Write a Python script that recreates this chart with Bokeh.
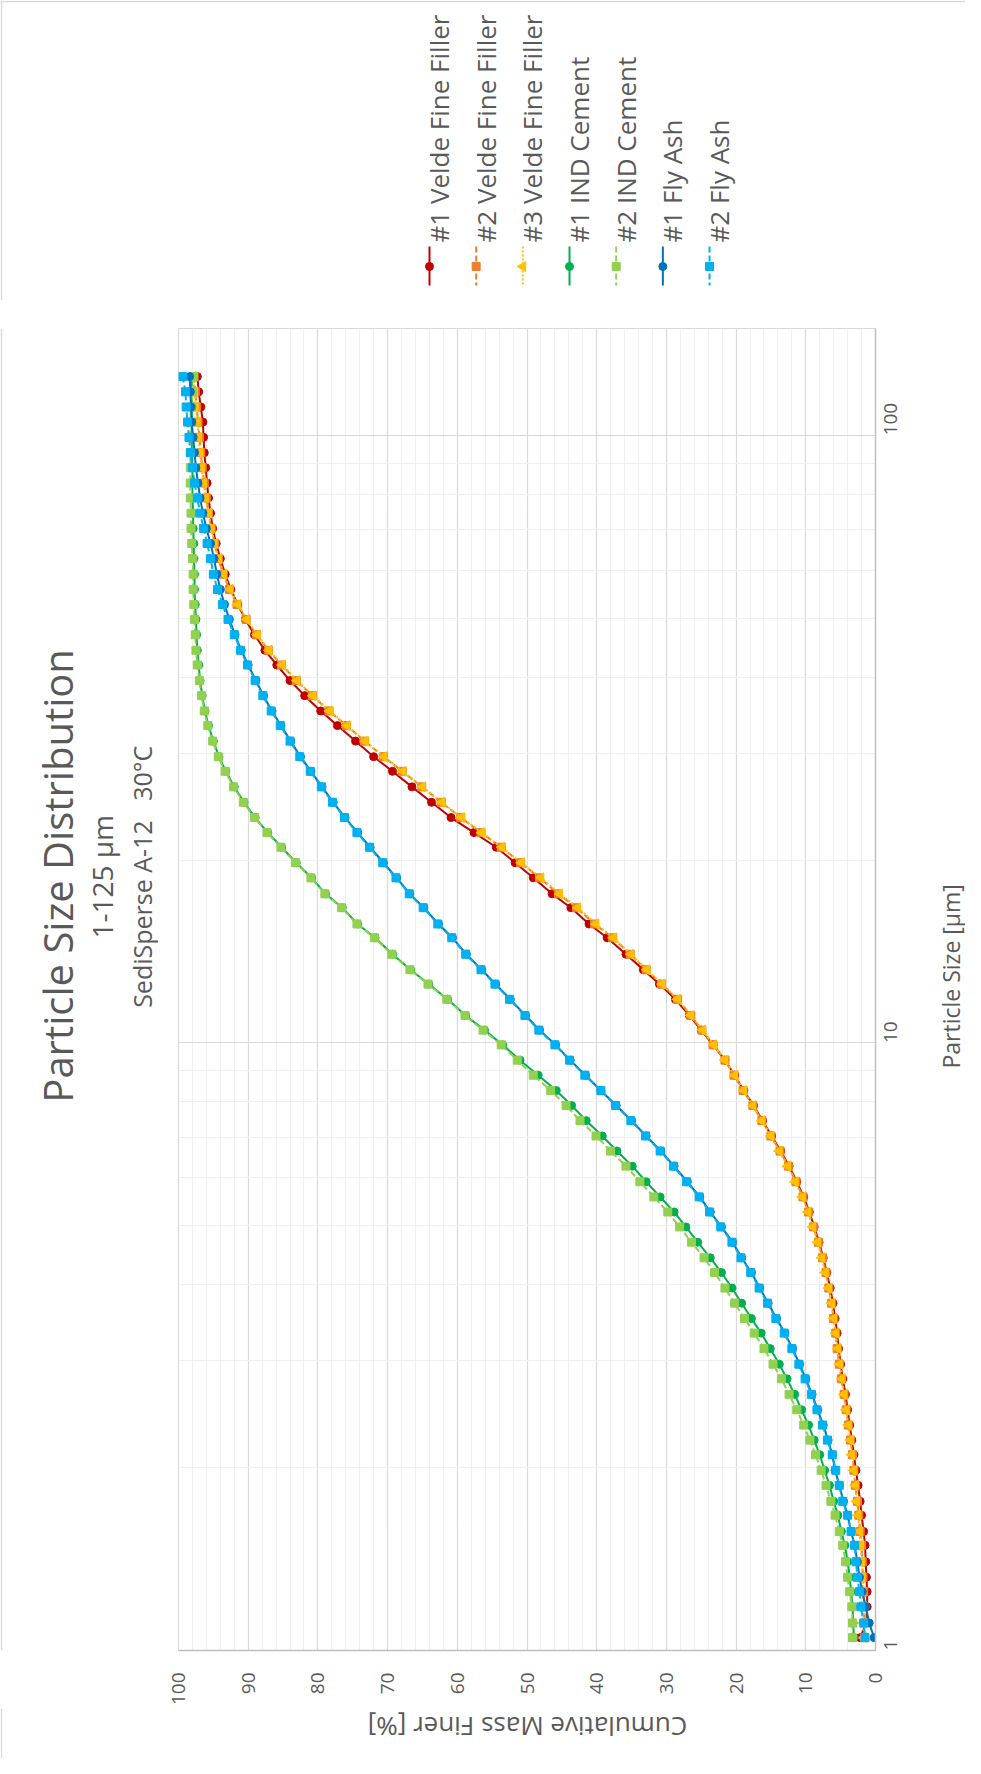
import math
from bokeh.plotting import figure
from bokeh.models import Range1d, FixedTicker, BasicTickFormatter
from bokeh.layouts import column, row
from bokeh.core.properties import value
from bokeh.embed import file_html
from bokeh.resources import INLINE

# ---------------- data ----------------
sizes = [125.0, 118.0, 111.4, 105.2, 99.3, 93.7, 88.5, 83.5, 78.9, 74.5,
         70.3, 66.4, 62.7, 59.1, 55.8, 52.7, 49.8, 47.0, 44.3, 41.9,
         39.5, 37.3, 35.2, 33.3, 31.4, 29.6, 28.0, 26.4, 24.9, 23.5,
         22.2, 21.0, 19.8, 18.7, 17.6, 16.7, 15.7, 14.9, 14.0, 13.2,
         12.5, 11.8, 11.1, 10.5, 9.93, 9.37, 8.85, 8.35, 7.89, 7.45,
         7.03, 6.64, 6.27, 5.91, 5.58, 5.27, 4.98, 4.70, 4.43, 4.19,
         3.95, 3.73, 3.52, 3.33, 3.14, 2.96, 2.80, 2.64, 2.49, 2.35,
         2.22, 2.10, 1.98, 1.87, 1.76, 1.67, 1.57, 1.49, 1.40, 1.32,
         1.25, 1.18, 1.11, 1.05]

velde1 = [97.3, 97.1, 96.8, 96.5, 96.4, 96.3, 96.1, 95.9, 95.7, 95.4,
          95.1, 94.6, 94.0, 93.3, 92.5, 91.5, 90.4, 89.1, 87.6, 85.9,
          84.0, 81.9, 79.6, 77.2, 74.6, 72.0, 69.3, 66.5, 63.7, 60.9,
          57.6, 54.4, 51.7, 49.1, 46.4, 43.7, 41.1, 38.5, 35.8, 33.3,
          31.0, 28.7, 26.7, 25.0, 23.3, 21.6, 20.2, 18.9, 17.5, 16.2,
          14.9, 13.6, 12.4, 11.3, 10.3, 9.5, 8.8, 8.1, 7.5, 7.0,
          6.5, 6.1, 5.8, 5.5, 5.3, 5.0, 4.7, 4.3, 4.0, 3.7,
          3.4, 3.1, 2.8, 2.5, 2.2, 2.0, 1.7, 1.5, 1.4, 1.3,
          1.2, 1.2, 1.3, 2.2]
velde2 = [97.8, 97.6, 97.4, 97.2, 97.0, 96.8, 96.6, 96.3, 96.0, 95.7,
          95.3, 94.8, 94.3, 93.6, 92.7, 91.6, 90.3, 88.8, 87.1, 85.2,
          83.1, 80.8, 78.4, 75.9, 73.3, 70.6, 67.9, 65.1, 62.3, 59.5,
          56.6, 53.7, 50.9, 48.2, 45.5, 42.9, 40.3, 37.7, 35.2, 32.9,
          30.7, 28.4, 26.5, 24.9, 23.3, 21.6, 20.3, 19.0, 17.6, 16.3,
          15.0, 13.7, 12.5, 11.4, 10.4, 9.6, 8.9, 8.2, 7.6, 7.1,
          6.7, 6.3, 6.0, 5.7, 5.5, 5.2, 4.9, 4.5, 4.2, 3.9,
          3.6, 3.3, 3.1, 2.9, 2.6, 2.4, 2.2, 2.0, 1.9, 1.8,
          1.7, 1.6, 1.6, 1.6]
velde3 = [97.9, 97.7, 97.5, 97.3, 97.1, 96.9, 96.7, 96.4, 96.1, 95.7,
          95.3, 94.8, 94.2, 93.5, 92.6, 91.5, 90.2, 88.7, 87.0, 85.1,
          83.0, 80.7, 78.3, 75.8, 73.2, 70.5, 67.8, 65.0, 62.2, 59.4,
          56.5, 53.6, 50.8, 48.0, 45.3, 42.7, 40.1, 37.6, 35.1, 32.8,
          30.6, 28.4, 26.5, 24.8, 23.2, 21.6, 20.2, 18.9, 17.6, 16.3,
          15.0, 13.8, 12.6, 11.5, 10.5, 9.7, 9.0, 8.3, 7.7, 7.2,
          6.7, 6.3, 6.0, 5.7, 5.4, 5.1, 4.8, 4.5, 4.2, 3.9,
          3.6, 3.4, 3.1, 2.9, 2.7, 2.5, 2.3, 2.1, 2.0, 1.9,
          1.8, 1.7, 1.7, 1.7]
cement1 = [98.1, 98.1, 98.1, 98.1, 98.1, 98.1, 98.0, 98.0, 98.0, 97.9,
           97.9, 97.8, 97.8, 97.7, 97.7, 97.6, 97.5, 97.4, 97.3, 97.1,
           96.9, 96.6, 96.2, 95.7, 95.0, 94.2, 93.2, 92.0, 90.6, 89.0,
           87.2, 85.2, 83.1, 80.9, 78.9, 76.5, 74.3, 71.8, 69.3, 66.7,
           64.1, 61.4, 58.8, 56.1, 53.5, 51.0, 48.4, 45.8, 43.6, 41.5,
           39.2, 37.1, 34.9, 32.9, 30.9, 28.9, 27.2, 25.5, 23.7, 22.1,
           20.6, 19.2, 17.8, 16.4, 15.1, 13.8, 12.7, 11.6, 10.6, 9.6,
           8.8, 8.0, 7.3, 6.6, 6.0, 5.4, 4.9, 4.4, 4.0, 3.7,
           3.5, 3.3, 3.2, 3.1]
cement2 = [97.8, 98.0, 98.2, 98.3, 98.3, 98.3, 98.3, 98.3, 98.3, 98.2,
           98.2, 98.1, 98.0, 97.9, 97.9, 97.8, 97.7, 97.6, 97.5, 97.3,
           97.0, 96.7, 96.3, 95.8, 95.1, 94.3, 93.3, 92.1, 90.7, 89.1,
           87.3, 85.3, 83.2, 81.0, 79.0, 76.6, 74.4, 71.9, 69.4, 66.8,
           64.2, 61.5, 58.9, 56.3, 53.7, 51.4, 49.1, 46.6, 44.4, 42.4,
           40.1, 38.0, 35.8, 33.8, 31.8, 29.8, 28.1, 26.4, 24.6, 23.1,
           21.6, 20.2, 18.8, 17.4, 16.0, 14.7, 13.5, 12.4, 11.3, 10.3,
           9.4, 8.6, 7.8, 7.1, 6.4, 5.8, 5.2, 4.7, 4.3, 4.0,
           3.7, 3.4, 3.3, 3.3]
flyash1 = [98.4, 98.3, 98.2, 98.1, 97.9, 97.7, 97.5, 97.2, 96.9, 96.5,
           96.0, 95.4, 94.9, 94.5, 94.0, 93.4, 92.7, 91.9, 91.0, 90.0,
           88.9, 87.8, 86.6, 85.3, 83.9, 82.5, 81.0, 79.4, 77.8, 76.1,
           74.3, 72.5, 70.6, 68.7, 66.8, 64.8, 62.7, 60.7, 58.7, 56.5,
           54.5, 52.4, 50.2, 48.2, 45.9, 43.8, 41.6, 39.4, 37.2, 35.0,
           32.9, 30.8, 28.9, 27.0, 25.2, 23.7, 22.1, 20.5, 19.2, 17.8,
           16.6, 15.4, 14.2, 13.0, 11.9, 10.9, 10.0, 9.1, 8.3, 7.5,
           6.8, 6.2, 5.8, 5.2, 4.6, 4.0, 3.5, 3.0, 2.6, 2.3,
           1.9, 1.4, 0.9, 0.2]
flyash2 = [99.4, 99.0, 98.9, 98.7, 98.5, 98.3, 98.0, 97.7, 97.3, 96.9,
           96.4, 95.9, 95.4, 95.0, 94.4, 93.7, 92.9, 92.0, 91.1, 90.1,
           89.0, 87.9, 86.7, 85.4, 84.0, 82.6, 81.1, 79.5, 77.9, 76.2,
           74.4, 72.6, 70.7, 68.8, 66.9, 64.9, 62.8, 60.8, 58.8, 56.6,
           54.6, 52.5, 50.3, 48.3, 46.0, 43.9, 41.7, 39.4, 37.3, 35.1,
           33.0, 30.9, 29.0, 27.1, 25.3, 23.8, 22.2, 20.6, 19.3, 17.9,
           16.7, 15.5, 14.3, 13.1, 12.0, 11.0, 10.1, 9.2, 8.4, 7.6,
           6.9, 6.2, 5.7, 5.2, 4.7, 4.0, 3.5, 3.0, 2.8, 2.6,
           2.3, 2.1, 1.7, 1.5]

series_names = ["#1 Velde Fine Filler", "#2 Velde Fine Filler", "#3 Velde Fine Filler",
                "#1 IND Cement", "#2 IND Cement", "#1 Fly Ash", "#2 Fly Ash"]
series_values = [velde1, velde2, velde3, cement1, cement2, flyash1, flyash2]
series_colors = ["#C00000", "#ED7D31", "#FFC000", "#00B050", "#92D050", "#0070C0", "#00B0F0"]
series_dash = ["solid", "6 3", "2 2", "solid", "6 3", "solid", "6 3"]
series_marker = ["circle", "square", "triangle", "circle", "square", "circle", "square"]

pct_ticks = [0, 10, 20, 30, 40, 50, 60, 70, 80, 90, 100]
size_ticks = [1, 10, 100]

title_text = "Particle Size Distribution"
subtitle1 = "1-125 µm"
subtitle2 = "SediSperse A-12\u00a0\u00a0\u00a030°C"
x_title = "Cumulative Mass Finer [%]"
y_title = "Particle Size [µm]"

# ---------------- layout (page pixel geometry) ----------------
FONT = "Open Sans"
GREY = "#595959"
BORDER = "#d9d9d9"
PAGE_L, PAGE_R, PAGE_T, PAGE_B = 8, 973, 8, 1766
TOP_H = 300            # legend strip height
BOT_Y = 1716           # start of bottom strip
LEFT_W = 158           # title strip width
MAIN_R = 925           # right edge of main figure
FL, FR, FT, FB = 186, 883, 336, 1660   # plot frame edges
YMAX = 150.0
mid_y0 = PAGE_T + TOP_H
mid_h = BOT_Y - mid_y0


def blank(w, h, x0, y0):
    f = figure(width=w, height=h, x_range=Range1d(x0, x0 + w), y_range=Range1d(y0 + h, y0),
               x_axis_type=None, y_axis_type=None, min_border=0, title=None,
               toolbar_location=None, output_backend="svg",
               background_fill_color="white", border_fill_color="white")
    f.outline_line_color = None
    f.grid.visible = False
    return f


def put_text(f, x, y, txt, size, angle, align="center"):
    f.text(x=[x], y=[y], text=[txt], angle=angle, text_align=align,
           text_baseline="alphabetic", text_font=value(FONT),
           text_font_size=value(size), text_color=GREY)


# --- legend strip (top) ---
top = blank(PAGE_R - PAGE_L, TOP_H, PAGE_L, PAGE_T)
top.line([PAGE_L, PAGE_R], [PAGE_T + 1, PAGE_T + 1], line_color=BORDER, line_width=1.5)
top.line([PAGE_L + 1, PAGE_L + 1], [PAGE_T, PAGE_T + TOP_H], line_color=BORDER, line_width=1.5)
for i, (name, col, dash, mk) in enumerate(zip(series_names, series_colors,
                                              series_dash, series_marker)):
    xc = 437 + i * 46.67
    top.line([xc, xc], [254, 293], line_color=col, line_width=2, line_dash=dash)
    if mk == "triangle":
        top.scatter([xc], [274], marker="triangle", size=10, angle=math.pi / 2,
                    fill_color=col, line_color=col)
    else:
        top.scatter([xc], [274], marker=mk, size=8, fill_color=col, line_color=col)
    put_text(top, xc + 9.5, 250, name, "26px", math.pi / 2, align="left")

# --- title strip (left) ---
left = blank(LEFT_W, mid_h, PAGE_L, mid_y0)
left.line([PAGE_L + 1, PAGE_L + 1], [mid_y0, BOT_Y], line_color=BORDER, line_width=1.5)
put_text(left, 65, 891, title_text, "40px", math.pi / 2)
put_text(left, 109, 892, subtitle1, "28px", math.pi / 2)
put_text(left, 149, 892, subtitle2, "25px", math.pi / 2)

# --- main plot ---
main_x0 = PAGE_L + LEFT_W
p = figure(width=MAIN_R - main_x0, height=mid_h,
           x_range=Range1d(100, 0), y_range=Range1d(1, YMAX),
           y_axis_type="log", y_axis_location="right", x_axis_location="below",
           output_backend="svg", toolbar_location=None, title=None,
           min_border_left=FL - main_x0, min_border_right=MAIN_R - FR,
           min_border_top=FT - mid_y0, min_border_bottom=BOT_Y - FB,
           background_fill_color="white", border_fill_color="white")
p.outline_line_color = BORDER
p.outline_line_width = 1

minor_pct = [v for v in range(0, 101, 2) if v % 10 != 0]
p.xaxis.ticker = FixedTicker(ticks=pct_ticks, minor_ticks=minor_pct)
p.xaxis.formatter = BasicTickFormatter()
minor_size = [2, 3, 4, 5, 6, 7, 8, 9, 20, 30, 40, 50, 60, 70, 80, 90]
p.yaxis.ticker = FixedTicker(ticks=size_ticks, minor_ticks=minor_size)
p.yaxis.formatter = BasicTickFormatter()

for ax in (p.xaxis, p.yaxis):
    ax.major_label_orientation = math.pi / 2
    ax.major_label_text_font = FONT
    ax.major_label_text_font_size = "19px"
    ax.major_label_text_color = GREY
    ax.major_tick_line_color = None
    ax.minor_tick_line_color = None
    ax.major_tick_out = 0
    ax.major_tick_in = 0
    ax.minor_tick_out = 0
    ax.minor_tick_in = 0
    ax.axis_line_color = "#bfbfbf"
    ax.axis_line_width = 1.5
p.xaxis.major_label_standoff = 22
p.yaxis.major_label_standoff = 15

for g in (p.xgrid, p.ygrid):
    g.grid_line_color = BORDER
    g.grid_line_width = 1.2
    g.minor_grid_line_color = "#f0f0f0"
    g.minor_grid_line_width = 1

for name, vals, col, dash, mk in zip(series_names, series_values, series_colors,
                                     series_dash, series_marker):
    p.line(vals, sizes, line_color=col, line_width=2, line_dash=dash)
    if mk == "triangle":
        p.scatter(vals, sizes, marker="triangle", size=10, angle=math.pi / 2,
                  fill_color=col, line_color=col)
    else:
        p.scatter(vals, sizes, marker=mk, size=8, fill_color=col, line_color=col)

# --- axis title strip (right) ---
right = blank(PAGE_R - MAIN_R, mid_h, MAIN_R, mid_y0)
put_text(right, 958, 998, y_title, "23px", math.pi / 2)

# --- axis title strip (bottom) ---
bottom = blank(PAGE_R - PAGE_L, PAGE_B - BOT_Y, PAGE_L, BOT_Y)
bottom.line([PAGE_L + 1, PAGE_L + 1], [BOT_Y, PAGE_B], line_color=BORDER, line_width=1.5)
put_text(bottom, 535, 1734, x_title, "26px", math.pi)

layout = column(top, row(left, p, right), bottom)
open("out.html", "w").write(file_html(layout, INLINE))
